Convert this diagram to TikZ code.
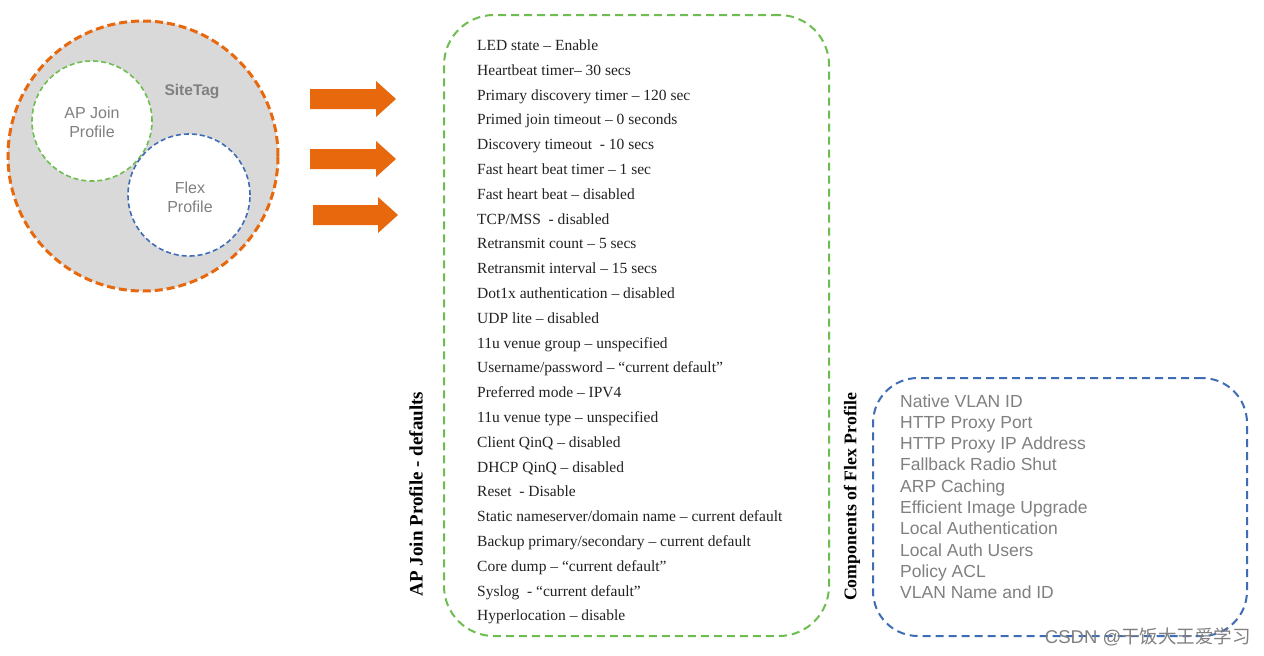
\documentclass[tikz,border=0pt]{standalone}
\usepackage{fontspec}
\setmainfont{Liberation Serif}
\newfontfamily\arialf{Liberation Sans}
\newfontfamily\cjkf{Noto Sans CJK SC}
\definecolor{orng}{HTML}{E8680E}
\definecolor{grn}{HTML}{6DBE4F}
\definecolor{blu}{HTML}{3F6DB5}
\definecolor{fillgray}{HTML}{D9D9D9}
\definecolor{txtgray}{HTML}{808080}
\definecolor{listtxt}{HTML}{222222}
\tikzset{
  ring/.style={circle, inner sep=0pt},
  joinitem/.style={anchor=west, inner sep=0pt, text height=11pt, text depth=3pt, text=listtxt, font=\fontsize{15.5}{18}\selectfont},
  flexitem/.style={anchor=west, inner sep=0pt, text height=12.5pt, text depth=3.5pt, text=txtgray, font=\arialf\fontsize{17.5}{20}\selectfont},
  sidelabel/.style={rotate=90, inner sep=0pt, font=\bfseries\fontsize{17.8}{20}\selectfont},
  circlabel/.style={align=center, text=txtgray, font=\arialf\fontsize{16}{19}\selectfont},
  bigarrow/.style={fill=orng, draw=none}
}
\begin{document}
\begin{tikzpicture}[x=1pt,y=-1pt]
\useasboundingbox (0,0) rectangle (1264,656);
\fill[white] (0,0) rectangle (1264,656);
% SiteTag circle
\node[ring, minimum size=270pt, fill=fillgray, draw=orng, line width=3pt, dash pattern=on 8pt off 4pt] (site) at (143,156) {};
\node[ring, minimum size=120pt, fill=white, draw=grn, line width=1.6pt, dash pattern=on 5pt off 3pt] (apj) at (92,121) {};
\node[ring, minimum size=122pt, fill=white, draw=blu, line width=1.6pt, dash pattern=on 5pt off 3pt] (flx) at (189,195) {};
\node[text=txtgray, font=\arialf\bfseries\fontsize{15.5}{18}\selectfont] (sitelbl) at (192,92) {SiteTag};
\node[circlabel] (apjlbl) at (92,122) {AP Join\\Profile};
\node[circlabel] (flxlbl) at (190,197) {Flex\\Profile};
% arrows
\fill[bigarrow] (310,89) -- (376,89) -- (376,81) -- (396,99) -- (376,117) -- (376,109) -- (310,109) -- cycle;
\fill[bigarrow] (310,149) -- (376,149) -- (376,141) -- (396,159) -- (376,177) -- (376,169) -- (310,169) -- cycle;
\fill[bigarrow] (313,205) -- (378,205) -- (378,197) -- (398,215) -- (378,233) -- (378,225) -- (313,225) -- cycle;
% AP Join defaults box
\node[draw=grn, line width=2pt, dash pattern=on 8pt off 5pt, rounded corners=50pt, minimum width=385pt, minimum height=621pt, inner sep=0pt] (joinbox) at (636.5,325.5) {};
\foreach \t [count=\i] in {
LED state -- Enable,
Heartbeat timer-- 30 secs,
Primary discovery timer -- 120 sec,
Primed join timeout -- 0 seconds,
Discovery timeout\ \ - 10 secs,
Fast heart beat timer -- 1 sec,
Fast heart beat -- disabled,
TCP/MSS\ \ - disabled,
Retransmit count -- 5 secs,
Retransmit interval -- 15 secs,
Dot1x authentication -- disabled,
UDP lite -- disabled,
11u venue group -- unspecified,
Username/password -- “current default”,
Preferred mode -- IPV4,
11u venue type -- unspecified,
Client QinQ -- disabled,
DHCP QinQ -- disabled,
Reset\ \ - Disable,
Static nameserver/domain name -- current default,
Backup primary/secondary -- current default,
Core dump -- “current default”,
Syslog\ \ - “current default”,
Hyperlocation -- disable}
  \node[joinitem] (g\i) at (477,{46.5+(\i-1)*24.8}) {\t};
\node[sidelabel, font=\bfseries\fontsize{19}{21}\selectfont] (joinlbl) at (416,494) {AP Join Profile - defaults};
% Flex profile box
\node[draw=blu, line width=2pt, dash pattern=on 8pt off 5pt, rounded corners=45pt, minimum width=374pt, minimum height=258pt, inner sep=0pt] (flexbox) at (1060,507) {};
\foreach \t [count=\i] in {
Native VLAN ID,
HTTP Proxy Port,
HTTP Proxy IP Address,
Fallback Radio Shut,
ARP Caching,
Efficient Image Upgrade,
Local Authentication,
Local Auth Users,
Policy ACL,
VLAN Name and ID}
  \node[flexitem] (f\i) at (900,{402.5+(\i-1)*21.3}) {\t};
\node[sidelabel] (flexlbl) at (852,497) {Components of Flex Profile};
% watermark
\node[anchor=east, text=txtgray, inner sep=0pt, font=\arialf\fontsize{18.5}{20}\selectfont] (wm) at (1251,637) {CSDN @{\cjkf 干饭大王爱学习}};
\end{tikzpicture}
\end{document}
